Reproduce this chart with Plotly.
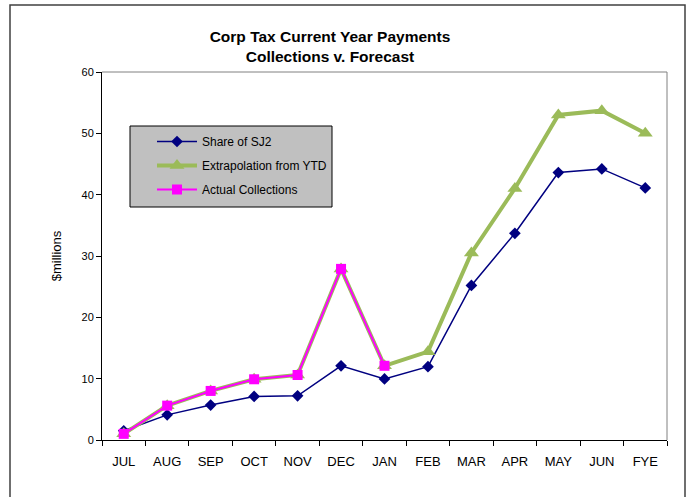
import plotly.graph_objects as go

months = ["JUL", "AUG", "SEP", "OCT", "NOV", "DEC", "JAN", "FEB", "MAR", "APR", "MAY", "JUN", "FYE"]
share_sj2 = [1.5, 4.1, 5.7, 7.1, 7.2, 12.1, 9.95, 11.95, 25.2, 33.7, 43.6, 44.2, 41.1]
extrapolation = [1.0, 5.6, 8.0, 9.9, 10.6, 27.9, 12.1, 14.4, 30.5, 41.0, 53.0, 53.7, 50.0]
actual = [1.0, 5.6, 8.0, 9.9, 10.6, 27.9, 12.1]

FONT = "Arial, Liberation Sans, sans-serif"

# plot area in pixels
L, R, T, B = 102, 667, 72, 440
PW, PH = R - L, B - T

def px(x):
    return (x - L) / PW

def py(y):
    return (B - y) / PH

fig = go.Figure()
fig.add_trace(go.Scatter(
    x=months, y=share_sj2, name="Share of SJ2", mode="lines+markers",
    line=dict(color="#000080", width=1.5),
    marker=dict(symbol="diamond", size=9, color="#000080"),
    legendgroup="a"))
fig.add_trace(go.Scatter(
    x=months, y=extrapolation, name="Extrapolation from YTD", mode="lines+markers",
    line=dict(color="#9BBB59", width=4),
    marker=dict(symbol="triangle-up", size=13, color="#9BBB59"),
    legendgroup="b"))
fig.add_trace(go.Scatter(
    x=months[:len(actual)], y=actual, name="Actual Collections", mode="lines+markers",
    line=dict(color="#FF00FF", width=2),
    marker=dict(symbol="square", size=10, color="#FF00FF"),
    legendgroup="c"))

fig.update_layout(
    width=694, height=497,
    margin=dict(l=L, r=694 - R, t=T, b=497 - B),
    paper_bgcolor="white", plot_bgcolor="white",
    font=dict(family=FONT, color="black"),
    title=dict(text="<b>Corp Tax Current Year Payments<br>Collections v. Forecast</b>",
               x=330/694, xanchor="center", xref="container",
               y=1 - 42/497, yanchor="middle", yref="container",
               font=dict(size=15.5, family=FONT, color="black")),
    showlegend=True,
    legend=dict(x=px(152), y=py(127), xanchor="left", yanchor="top",
                bgcolor="rgba(0,0,0,0)", borderwidth=0,
                font=dict(size=12, family=FONT, color="black"),
                itemwidth=40,
                traceorder="grouped", tracegroupgap=5),
    xaxis=dict(type="category", categoryorder="array", categoryarray=months,
               range=[-0.5, 12.5], tickson="boundaries", ticks="outside", ticklen=5,
               tickcolor="black", showline=True, linecolor="black", linewidth=1,
               showgrid=False, zeroline=False, ticklabelstandoff=9,
               tickfont=dict(size=13, family=FONT, color="black")),
    yaxis=dict(range=[0, 60], dtick=10, ticks="outside", ticklen=5, tickcolor="black",
               showline=True, linecolor="black", linewidth=1, showgrid=False, zeroline=False,
               tickfont=dict(size=11, family=FONT, color="black"),
               title=dict(text="$millions", standoff=16,
                          font=dict(size=13, family=FONT, color="black"))),
    shapes=[
        dict(type="line", xref="paper", yref="paper", x0=0, x1=1, y0=1, y1=1,
             line=dict(color="#808080", width=1)),
        dict(type="line", xref="paper", yref="paper", x0=1, x1=1, y0=0, y1=1,
             line=dict(color="#808080", width=1)),
        dict(type="rect", xref="paper", yref="paper",
             x0=px(10), x1=px(685), y0=py(505), y1=py(5),
             line=dict(color="#404040", width=1.5), fillcolor="rgba(0,0,0,0)", layer="below"),
        dict(type="rect", xref="paper", yref="paper",
             x0=px(130), x1=px(332), y0=py(207), y1=py(126),
             line=dict(color="black", width=1), fillcolor="#C0C0C0", layer="below"),
    ],
)

fig.write_html("out.html", config={"displayModeBar": False},
               post_script="document.body.style.margin='0';")
